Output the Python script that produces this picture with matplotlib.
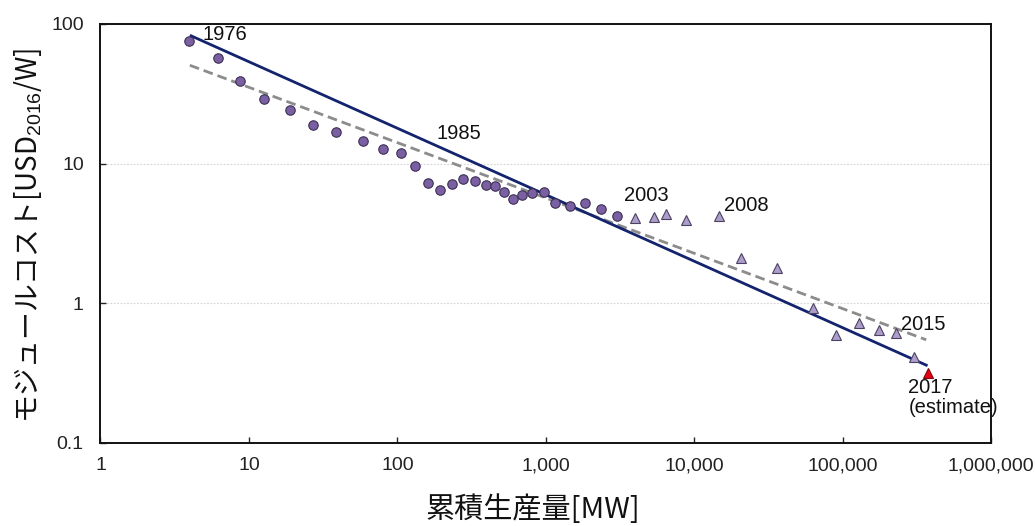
import matplotlib
matplotlib.use("Agg")
import matplotlib.pyplot as plt
from matplotlib.ticker import FixedLocator, FixedFormatter, NullLocator

plt.rcParams['font.family'] = ['Liberation Sans', 'Noto Sans CJK JP', 'DejaVu Sans']
plt.rcParams['mathtext.fontset'] = 'custom'
plt.rcParams['mathtext.rm'] = 'Liberation Sans'
plt.rcParams['mathtext.it'] = 'Liberation Sans:italic'
plt.rcParams['mathtext.bf'] = 'Liberation Sans:bold'

# Cumulative production [MW] and module cost [USD2016/W], 1976-2003
hist_mw = [3.96, 6.21, 8.70, 12.7, 18.9, 26.9, 38.5, 58.9, 79.5, 105.6,
           131.8, 161, 193, 234, 279, 334, 396, 454, 521, 602,
           697, 813, 970, 1150, 1452, 1832, 2356, 3006]
hist_cost = [75.2, 56.8, 38.8, 29.2, 24.2, 19.0, 16.8, 14.4, 12.8, 11.9,
             9.58, 7.28, 6.44, 7.11, 7.69, 7.52, 7.05, 6.88, 6.23, 5.59,
             5.97, 6.17, 6.23, 5.23, 5.00, 5.23, 4.74, 4.19]

# 2004-2016
recent_mw = [4018, 5336, 6500, 8853, 14690, 20560, 36330, 63100, 90700,
             128800, 174700, 230000, 300700]
recent_cost = [4.06, 4.15, 4.38, 3.92, 4.19, 2.09, 1.78, 0.927, 0.595,
               0.719, 0.637, 0.609, 0.410]

# 2017 estimate
est_mw = [373500]
est_cost = [0.318]

# Experience-curve fits (end points)
fit_solid_mw = [4.0, 373500]
fit_solid_cost = [83.0, 0.356]
fit_dash_mw = [4.0, 366000]
fit_dash_cost = [50.6, 0.546]

x_ticks = [1, 10, 100, 1000, 10000, 100000, 1000000]
x_tick_labels = ['1', '10', '100', '1,000', '10,000', '100,000', '1,000,000']
y_ticks = [0.1, 1, 10, 100]
y_tick_labels = ['0.1', '1', '10', '100']

fig = plt.figure(figsize=(10.35, 5.26), dpi=100)
ax = fig.add_axes([0.0971, 0.1584, 0.8604, 0.796])
ax.set_xscale('log')
ax.set_yscale('log')
ax.set_xlim(1, 1e6)
ax.set_ylim(0.1, 100)

ax.grid(axis='y', which='major', color='#d4d4d4', linestyle=(0, (1.5, 1.5)),
        linewidth=0.8, zorder=0)

ax.plot(fit_dash_mw, fit_dash_cost, color='#8c8c8c', linewidth=2.0,
        dashes=(3.5, 1.8), zorder=2)
ax.plot(fit_solid_mw, fit_solid_cost, color='#13236e', linewidth=2.0,
        solid_capstyle='butt', zorder=3)

ax.plot(hist_mw, hist_cost, linestyle='none', marker='o', markersize=6.8,
        markerfacecolor='#7b5fa3', markeredgecolor='#3b2f52',
        markeredgewidth=0.8, zorder=4)
ax.plot(recent_mw, recent_cost, linestyle='none', marker='^', markersize=7.2,
        markerfacecolor='#ac9dcb', markeredgecolor='#4b4160',
        markeredgewidth=0.8, zorder=4)
ax.plot(est_mw, est_cost, linestyle='none', marker='^', markersize=7.2,
        markerfacecolor='#e60012', markeredgecolor='#7a0a0a',
        markeredgewidth=0.8, zorder=5)

lab_kw = dict(fontsize=14.5, color='#111111', zorder=6)
ax.text(4.90, 84.5, '1976', ha='left', va='center', **lab_kw)
ax.text(259, 16.4, '1985', ha='center', va='center', **lab_kw)
ax.text(4764, 5.90, '2003', ha='center', va='center', **lab_kw)
ax.text(22330, 5.02, '2008', ha='center', va='center', **lab_kw)
ax.text(349400, 0.706, '2015', ha='center', va='center', **lab_kw)
ax.text(278000, 0.2096, '2017\n(estimate)', ha='left', va='center',
        linespacing=1.05, **lab_kw)

ax.xaxis.set_major_locator(FixedLocator(x_ticks))
ax.xaxis.set_major_formatter(FixedFormatter(x_tick_labels))
ax.xaxis.set_minor_locator(NullLocator())
ax.yaxis.set_major_locator(FixedLocator(y_ticks))
ax.yaxis.set_major_formatter(FixedFormatter(y_tick_labels))
ax.yaxis.set_minor_locator(NullLocator())

ax.tick_params(axis='both', which='major', direction='in', length=4.5,
               width=1.0, color='#222222', labelsize=14, labelcolor='#222222')
ax.tick_params(axis='x', pad=10.5)
ax.tick_params(axis='y', pad=12)

for sp in ax.spines.values():
    sp.set_linewidth(1.4)
    sp.set_color('#111111')

ax.set_xlabel('累積生産量[MW]', fontsize=21, family=['Noto Sans CJK JP'],
              color='#111111')
ax.xaxis.set_label_coords(0.486, -0.161)
ax.xaxis.label.set_va('center')

ax.set_ylabel('モジュールコスト[USD$_{2016}$/W]', fontsize=20,
              family=['Noto Sans CJK JP'], color='#111111')
ax.yaxis.set_label_coords(-0.0814, 0.496)
ax.yaxis.label.set_va('center')
ax.yaxis.label.set_ha('center')

fig.savefig('out.png', dpi=100)
